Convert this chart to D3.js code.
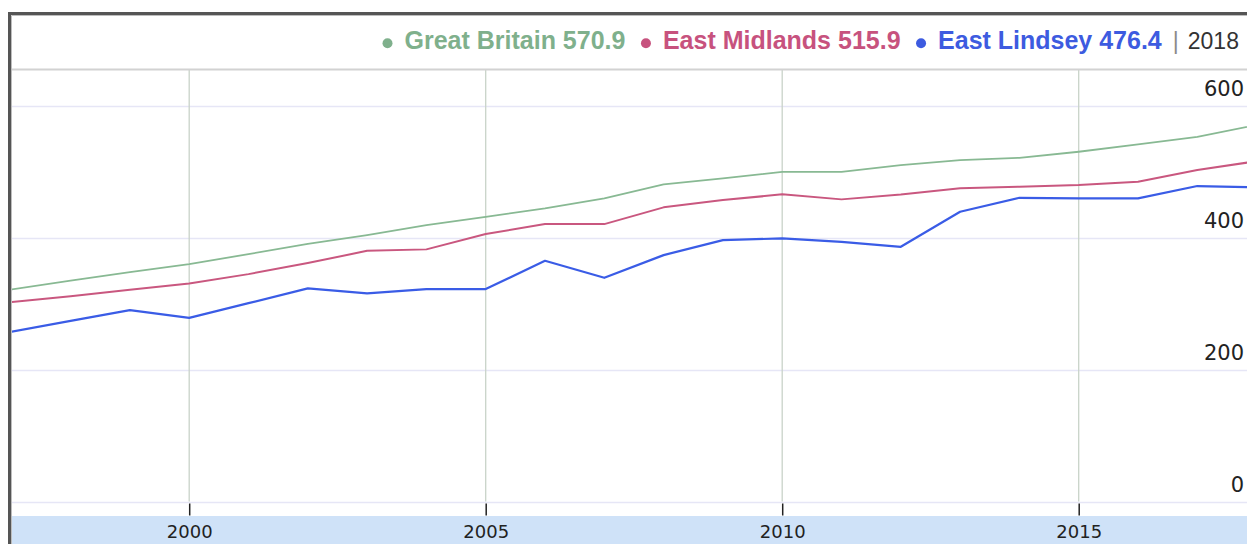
<!DOCTYPE html>
<html>
<head>
<meta charset="utf-8">
<script src="https://cdnjs.cloudflare.com/ajax/libs/d3/7.8.5/d3.min.js"></script>
<style>
  html, body { margin: 0; padding: 0; background: #fff; }
  svg { display: block; }
</style>
</head>
<body>
<svg id="chart" width="1247" height="544"></svg>
<script>
// ---- data ----
const years = [1997, 1998, 1999, 2000, 2001, 2002, 2003, 2004, 2005, 2006, 2007,
               2008, 2009, 2010, 2011, 2012, 2013, 2014, 2015, 2016, 2017, 2018];
const greatBritain = [321.5, 334.9, 347.7, 359.9, 375.0, 390.7, 403.9, 419.0, 431.6, 444.3, 459.5,
                      480.7, 489.8, 499.8, 499.8, 510.0, 517.6, 521.0, 530.2, 541.4, 552.9, 570.9];
const eastMidlands = [302.2, 311.3, 320.9, 330.6, 344.7, 361.4, 380.0, 382.2, 405.4, 420.5, 420.5,
                      445.9, 456.9, 465.6, 458.0, 465.3, 474.7, 477.1, 479.7, 484.7, 502.4, 515.9];
const eastLindsey  = [257.2, 273.9, 290.1, 278.4, 300.7, 323.0, 315.4, 322.0, 322.0, 364.9, 339.1,
                      373.5, 396.3, 398.8, 393.7, 386.1, 439.2, 460.4, 459.5, 459.5, 478.2, 476.4];
const seriesNames = ["Great Britain", "East Midlands", "East Lindsey"];
const legendValues = ["570.9", "515.9", "476.4"];
const legendYear = "2018";
const xTickValues = [2000, 2005, 2010, 2015];
const yTickValues = [0, 200, 400, 600];

// ---- styles ----
const textColors = ["#7fb08c", "#c7527e", "#3d5be0"];
const lineColors = ["#88b993", "#c9577f", "#3a5ce6"];
const lineWidths = [1.8, 2, 2.2];

const W = 1247, H = 544;
const plotLeft = 12, plotTop = 70, bandTop = 516;

const svg = d3.select("#chart");

const x = d3.scaleLinear().domain([1997, 2018]).range([11.3, 1256.6]);
const y = d3.scaleLinear().domain([0, 600]).range([501.5, 105.7]);

// clip for plot
svg.append("defs").append("clipPath").attr("id", "plotclip")
  .append("rect").attr("x", plotLeft).attr("y", plotTop)
  .attr("width", W - plotLeft).attr("height", bandTop - plotTop);

// x axis band
svg.append("rect").attr("x", plotLeft).attr("y", bandTop)
  .attr("width", W - plotLeft).attr("height", H - bandTop)
  .attr("fill", "#cfe2f8");

// horizontal gridlines
svg.append("g").selectAll("line").data(yTickValues).join("line")
  .attr("x1", plotLeft).attr("x2", W)
  .attr("y1", d => Math.round(y(d)) + 0.5).attr("y2", d => Math.round(y(d)) + 0.5)
  .attr("stroke", "#e6e6f6").attr("stroke-width", 1.5);

// vertical gridlines
svg.append("g").selectAll("line").data(xTickValues).join("line")
  .attr("x1", d => x(d)).attr("x2", d => x(d))
  .attr("y1", plotTop).attr("y2", y(0))
  .attr("stroke", "#c9d3c9").attr("stroke-width", 1.3);

// x axis (ticks + labels)
const xAxis = d3.axisBottom(x).tickValues(xTickValues).tickFormat(d3.format("d"))
  .tickSize(12).tickPadding(4);
const gx = svg.append("g").attr("transform", `translate(0,${y(0) + 2})`).call(xAxis);
gx.select(".domain").remove();
gx.selectAll(".tick line").attr("stroke", "#222").attr("stroke-width", 1.5);
gx.selectAll(".tick text")
  .attr("fill", "#222")
  .style("font-family", "'DejaVu Sans', Verdana, sans-serif")
  .style("font-size", "18px")
  .attr("y", 34).attr("dy", 0);

// y axis labels (right, above gridlines)
const yAxis = d3.axisLeft(y).tickValues(yTickValues).tickSize(0).tickPadding(0);
const gy = svg.append("g").attr("transform", "translate(1244,0)").call(yAxis);
gy.select(".domain").remove();
gy.selectAll(".tick text")
  .attr("fill", "#222")
  .style("font-family", "'DejaVu Sans', Verdana, sans-serif")
  .style("font-size", "21px")
  .attr("y", -10).attr("dy", 0);

// lines
const allSeries = [greatBritain, eastMidlands, eastLindsey];
const line = d3.line().x((d, i) => x(years[i])).y(d => y(d));
svg.append("g").attr("clip-path", "url(#plotclip)")
  .selectAll("path").data(allSeries).join("path")
  .attr("d", d => line(d))
  .attr("fill", "none")
  .attr("stroke", (d, i) => lineColors[i])
  .attr("stroke-width", (d, i) => lineWidths[i])
  .attr("stroke-linejoin", "round");

// legend separator
svg.append("line").attr("x1", plotLeft).attr("x2", W)
  .attr("y1", 69.5).attr("y2", 69.5)
  .attr("stroke", "#d2d2d2").attr("stroke-width", 2);

// legend
const legend = svg.append("g");
let cx = 387.5;
const legY = 48.5;
seriesNames.forEach((name, i) => {
  legend.append("circle").attr("cx", cx).attr("cy", 43.3).attr("r", 5)
    .attr("fill", textColors[i]);
  const t = legend.append("text")
    .attr("x", cx + 17).attr("y", legY)
    .attr("fill", textColors[i])
    .style("font-family", "'Liberation Sans', Arial, sans-serif")
    .style("font-weight", "bold")
    .style("font-size", "25px")
    .text(name + " " + legendValues[i]);
  const w = t.node().getComputedTextLength();
  cx = cx + 17 + w + 20.5;
});
const sepX = cx - 20.5 + 11;
legend.append("text").attr("x", sepX).attr("y", legY)
  .attr("fill", "#8a8a8a")
  .style("font-family", "'Liberation Sans', Arial, sans-serif")
  .style("font-size", "23px")
  .text("|");
legend.append("text").attr("x", sepX + 15).attr("y", legY)
  .attr("fill", "#333")
  .style("font-family", "'Liberation Sans', Arial, sans-serif")
  .style("font-size", "23px")
  .text(legendYear);

// frame
svg.append("path")
  .attr("d", `M9.5,${H} V13.5 H${W}`)
  .attr("fill", "none").attr("stroke", "#555").attr("stroke-width", 3);
svg.append("path")
  .attr("d", `M11.5,${H} V15.5 H${W}`)
  .attr("fill", "none").attr("stroke", "#bdbdbd").attr("stroke-width", 1);
</script>
</body>
</html>
